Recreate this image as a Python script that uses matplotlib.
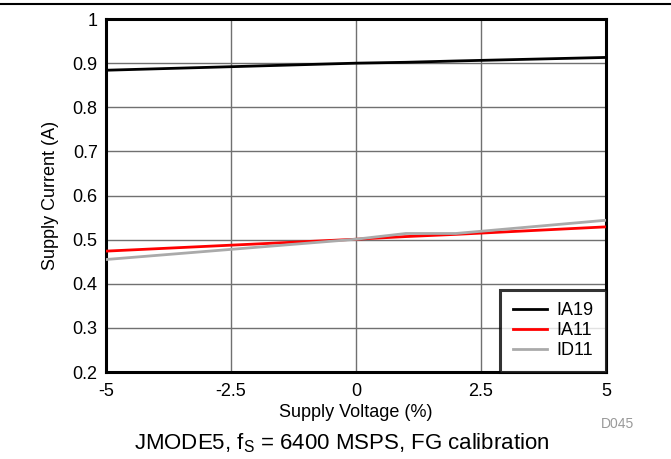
import matplotlib.pyplot as plt
from matplotlib.lines import Line2D

plt.rcParams['font.family'] = ['Liberation Sans', 'DejaVu Sans']

# Supply voltage (%) and supply currents (A)
voltage = [-5, 0, 1, 2, 5]
ia19 = [0.884, 0.900, 0.902, 0.905, 0.913]
ia11 = [0.474, 0.501, 0.507, 0.512, 0.529]
id11 = [0.455, 0.501, 0.514, 0.514, 0.544]

xticks = [-5, -2.5, 0, 2.5, 5]
xticklabels = ['-5', '-2.5', '0', '2.5', '5']
yticks = [0.2, 0.3, 0.4, 0.5, 0.6, 0.7, 0.8, 0.9, 1.0]
yticklabels = ['0.2', '0.3', '0.4', '0.5', '0.6', '0.7', '0.8', '0.9', '1']

fig = plt.figure(figsize=(6.71, 4.59), dpi=100)
ax = fig.add_axes([0.158, 0.1895, 0.745, 0.769])

ax.plot(voltage, ia19, color='black', lw=2, label='IA19', zorder=3)
ax.plot(voltage, ia11, color='#ff0000', lw=2, label='IA11', zorder=3)
ax.plot(voltage, id11, color='#aaaaaa', lw=2, label='ID11', zorder=3)

ax.set_xlim(-5, 5)
ax.set_ylim(0.2, 1.0)
ax.set_xticks(xticks)
ax.set_xticklabels(xticklabels)
ax.set_yticks(yticks)
ax.set_yticklabels(yticklabels)
ax.tick_params(length=0, labelsize=13)
ax.tick_params(axis='y', pad=6)
ax.tick_params(axis='x', pad=8)
ax.grid(True, color='#707070', lw=1)
for s in ax.spines.values():
    s.set_linewidth(2.2)

ax.set_xlabel('Supply Voltage (%)', fontsize=13, labelpad=3)
ax.set_ylabel('Supply Current (A)', fontsize=13, labelpad=10)

leg = ax.legend(loc='lower right', fontsize=13, frameon=True, fancybox=False,
                borderaxespad=0, handlelength=1.9, labelspacing=0.17,
                borderpad=0.7, handletextpad=0.5)
leg.get_frame().set_edgecolor('black')
leg.get_frame().set_linewidth(2.2)

fig.text(0.945, 0.068, 'D045', fontsize=10, color='#999999', ha='right')
fig.text(0.51, 0.02, r'JMODE5, f$_\mathregular{S}$ = 6400 MSPS, FG calibration',
         fontsize=16, ha='center')

fig.add_artist(Line2D([0, 1], [0.991, 0.991], color='black', lw=1.5,
                      transform=fig.transFigure))

fig.savefig('out.png', dpi=100)
